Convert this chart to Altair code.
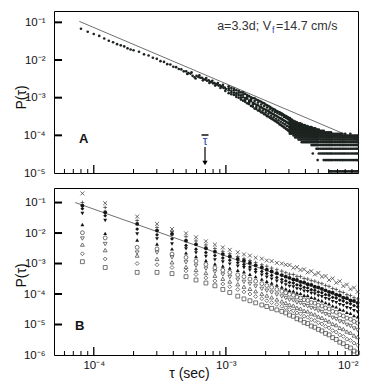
import altair as alt
import pandas as pd

# ---------------- values ----------------
# Panel A : tau = n * 1e-5 s, values given as log10 P(tau)
nA1 = [8, 9, 10, 11, 12, 13, 14, 15, 16, 17, 18, 19]
lpA1 = [-1.17, -1.25, -1.31, -1.36, -1.43, -1.49, -1.53, -1.58, -1.61, -1.64, -1.69, -1.72]

nA2 = [20, 22, 24, 26, 28, 30, 32, 34, 36, 38, 40, 42, 44, 46, 48, 50, 52, 54, 56, 58,
       60, 62, 64, 66, 68, 70, 72, 74, 76, 78, 80, 82, 84, 86, 88, 90, 92, 94, 96, 98, 100]
lpA2 = [-1.74, -1.78, -1.85, -1.88, -1.94, -1.97, -2.03, -2.05, -2.11, -2.12, -2.18, -2.19,
        -2.24, -2.25, -2.30, -2.30, -2.35, -2.36, -2.42, -2.46, -2.42, -2.45, -2.47, -2.47,
        -2.51, -2.52, -2.55, -2.54, -2.58, -2.58, -2.62, -2.61, -2.65, -2.64, -2.68, -2.67,
        -2.71, -2.70, -2.74, -2.73, -2.77]
nA2b = [51, 55, 59, 63, 67, 71, 75, 79, 83, 87, 91, 95, 99]
lpA2b = [-2.37, -2.33, -2.49, -2.41, -2.54, -2.48, -2.61, -2.55, -2.68, -2.61, -2.74, -2.66, -2.82]

nA3 = [105, 110, 115, 120, 125, 130, 135, 140, 145, 150, 155, 160, 165, 170, 175, 180, 185, 190,
       195, 200, 205, 210, 215, 220, 225, 230, 235, 240, 245, 250, 255, 260, 265, 270, 275, 280,
       285, 290, 295, 300]
lpA3_u = [-2.70, -2.74, -2.76, -2.80, -2.82, -2.86, -2.86, -2.90, -2.93, -2.96,
          -2.99, -3.01, -3.02, -3.05, -3.07, -3.09, -3.11, -3.14, -3.15, -3.18,
          -3.20, -3.22, -3.24, -3.27, -3.29, -3.31, -3.32, -3.35, -3.36, -3.38,
          -3.39, -3.41, -3.42, -3.44, -3.46, -3.48, -3.49, -3.51, -3.52, -3.54]
lpA3_m = [-2.80, -2.81, -2.87, -2.88, -2.93, -2.94, -2.99, -3.01, -3.03, -3.08,
          -3.09, -3.14, -3.16, -3.19, -3.20, -3.24, -3.25, -3.28, -3.30, -3.32,
          -3.34, -3.36, -3.39, -3.41, -3.43, -3.44, -3.47, -3.48, -3.50, -3.52,
          -3.54, -3.55, -3.57, -3.59, -3.61, -3.62, -3.64, -3.66, -3.67, -3.69]
lpA3_l = [-2.88, -2.91, -2.93, -2.98, -3.00, -3.05, -3.08, -3.11, -3.15, -3.17,
          -3.22, -3.24, -3.29, -3.30, -3.34, -3.35, -3.39, -3.40, -3.44, -3.45,
          -3.49, -3.50, -3.53, -3.55, -3.57, -3.59, -3.62, -3.63, -3.66, -3.67,
          -3.71, -3.72, -3.75, -3.76, -3.79, -3.80, -3.83, -3.84, -3.87, -3.88]
lpA3_x = [-2.75, -2.86, -2.81, -2.93, -2.87, -3.00, -2.92, -3.06, -2.98, -3.12,
          -3.04, -3.19, -3.09, -3.25, -3.13, -3.30, -3.18, -3.34, -3.22, -3.39,
          -3.26, -3.43, -3.31, -3.48, -3.35, -3.52, -3.38, -3.56, -3.41, -3.60,
          -3.44, -3.64, -3.47, -3.68, -3.51, -3.71, -3.54, -3.75, -3.57, -3.78]

# quantised tail of panel A: P = k * P_ONE (k = number of events)
P_ONE = 1.1e-5
qN = [305, 315, 325, 335, 345, 355, 365, 375, 385, 395, 405, 415, 425, 435, 445, 455, 465, 475,
      485, 495, 505, 520, 535, 550, 565, 580, 595, 610, 625, 640, 660, 680, 700, 720, 740, 760,
      780, 800, 825, 850, 875, 900, 925, 950, 975, 995]
qKmin = [10, 10, 9, 8, 8, 7, 7, 6] + [6] * 38
qKmax = [26, 24, 22, 21, 20, 19, 19, 18, 17, 17, 16, 16, 15, 15, 15, 14, 14, 14, 13, 13,
         13, 12, 12, 12, 11, 11, 11, 11, 11, 10, 10, 10, 10, 10, 10, 10, 9, 10, 9, 9,
         10, 9, 9, 9, 9, 9]
rowK = [5, 4, 3, 2, 1]
rowStartN = [445, 477, 502, 548, 598]
isoN = [495, 455]
isoK = [2, 3]

lineA_tau = [7.78e-5, 1e-2]
lineA_P = [0.106, 7.6e-5]
tau_bar = [6.95e-4]

# Panel B : columns of tau (s) and log10 P for each symbol series
tauB = [8.2e-5, 1.22e-4, 2.13e-4, 3.01e-4, 3.91e-4, 4.99e-4, 5.94e-4, 7.06e-4, 8.26e-4, 9.48e-4,
        1.07e-3, 1.23e-3, 1.37e-3, 1.52e-3, 1.68e-3, 1.87e-3, 2.04e-3, 2.22e-3, 2.43e-3, 2.65e-3,
        2.84e-3, 3.03e-3, 3.24e-3, 3.45e-3, 3.67e-3, 3.91e-3, 4.16e-3, 4.43e-3, 4.71e-3, 5.01e-3,
        5.33e-3, 5.68e-3, 6.04e-3, 6.43e-3, 6.84e-3, 7.28e-3, 7.74e-3, 8.24e-3, 8.77e-3, 9.33e-3,
        9.93e-3]
lp_x = [-0.70, -1.02, -1.46, -1.70, -1.87, -2.01, -2.14, -2.27, -2.38, -2.47, -2.55, -2.63, -2.70,
        -2.74, -2.81, -2.84, -2.90, -2.92, -2.98, -3.00, -3.04, -3.05, -3.14, -3.12, -3.21, -3.19,
        -3.29, -3.25, -3.36, -3.31, -3.43, -3.41, -3.54, -3.49, -3.63, -3.58, -3.74, -3.69, -3.84,
        -3.79, -3.93]
lp_plus = [-1.00, -1.16, -1.59, -1.82, -1.95, -2.12, -2.26, -2.39, -2.51, -2.60, -2.68, -2.77, -2.84,
           -2.90, -2.97, -3.04, -3.09, -3.15, -3.20, -3.25, -3.30, -3.35, -3.36, -3.42, -3.43, -3.49,
           -3.51, -3.56, -3.58, -3.63, -3.66, -3.72, -3.75, -3.82, -3.85, -3.92, -3.95, -4.02, -4.05,
           -4.12, -4.16]
lp_dot = [-1.10, -1.32, -1.70, -1.92, -2.03, -2.25, -2.37, -2.50, -2.61, -2.69, -2.77, -2.85, -2.91,
          -2.98, -3.06, -3.13, -3.20, -3.26, -3.32, -3.38, -3.43, -3.47, -3.52, -3.54, -3.60, -3.62,
          -3.68, -3.70, -3.76, -3.78, -3.83, -3.88, -3.93, -3.96, -4.02, -4.05, -4.12, -4.14, -4.21,
          -4.23, -4.29]
lp_dia = [-1.20, -1.43, -1.87, -2.06, -2.19, -2.41, -2.53, -2.64, -2.74, -2.82, -2.89, -2.97, -3.03,
          -3.11, -3.19, -3.26, -3.33, -3.39, -3.46, -3.52, -3.57, -3.62, -3.64, -3.70, -3.72, -3.78,
          -3.80, -3.86, -3.88, -3.93, -3.96, -4.02, -4.04, -4.11, -4.13, -4.20, -4.23, -4.29, -4.32,
          -4.38, -4.42]
lp_tdn = [-1.36, -1.59, -2.03, -2.19, -2.36, -2.52, -2.65, -2.77, -2.88, -2.95, -3.02, -3.09, -3.14,
          -3.22, -3.30, -3.38, -3.45, -3.51, -3.58, -3.64, -3.70, -3.75, -3.77, -3.83, -3.85, -3.91,
          -3.92, -3.98, -4.00, -4.06, -4.09, -4.15, -4.18, -4.25, -4.28, -4.35, -4.38, -4.45, -4.48,
          -4.55, -4.59]
lp_tup = [-1.72, -2.01, -2.23, -2.36, -2.52, -2.65, -2.77, -2.90, -3.01, -3.08, -3.15, -3.22, -3.27,
          -3.35, -3.43, -3.51, -3.58, -3.64, -3.71, -3.77, -3.83, -3.88, -3.90, -3.96, -3.98, -4.04,
          -4.05, -4.11, -4.13, -4.19, -4.22, -4.28, -4.32, -4.39, -4.42, -4.50, -4.53, -4.60, -4.63,
          -4.71, -4.75]
lp_oc = [-1.99, -2.16, -2.47, -2.52, -2.69, -2.80, -2.92, -3.03, -3.14, -3.22, -3.29, -3.37, -3.43,
         -3.51, -3.58, -3.66, -3.72, -3.78, -3.85, -3.91, -3.96, -4.01, -4.04, -4.10, -4.13, -4.19,
         -4.21, -4.28, -4.30, -4.37, -4.39, -4.46, -4.49, -4.57, -4.60, -4.68, -4.72, -4.79, -4.83,
         -4.90, -4.95]
lp_otd = [-2.18, -2.36, -2.64, -2.64, -2.80, -2.96, -3.07, -3.17, -3.27, -3.36, -3.44, -3.53, -3.60,
          -3.67, -3.75, -3.83, -3.89, -3.95, -4.02, -4.08, -4.13, -4.19, -4.21, -4.28, -4.30, -4.37,
          -4.40, -4.46, -4.49, -4.55, -4.59, -4.66, -4.70, -4.78, -4.82, -4.90, -4.93, -5.01, -5.05,
          -5.13, -5.18]
lp_otu = [-2.38, -2.56, -2.74, -2.85, -2.96, -3.11, -3.21, -3.31, -3.40, -3.50, -3.59, -3.68, -3.76,
          -3.83, -3.91, -3.99, -4.05, -4.11, -4.18, -4.24, -4.29, -4.35, -4.38, -4.45, -4.48, -4.55,
          -4.57, -4.64, -4.67, -4.74, -4.78, -4.85, -4.90, -4.98, -5.02, -5.11, -5.15, -5.23, -5.27,
          -5.36, -5.41]
lp_odi = [-2.68, -2.85, -3.00, -3.04, -3.13, -3.24, -3.36, -3.47, -3.57, -3.67, -3.76, -3.85, -3.93,
          -4.00, -4.08, -4.15, -4.22, -4.28, -4.34, -4.40, -4.45, -4.51, -4.55, -4.62, -4.65, -4.73,
          -4.76, -4.84, -4.87, -4.94, -4.98, -5.06, -5.11, -5.20, -5.25, -5.34, -5.39, -5.48, -5.52,
          -5.61, -5.67]
lp_osq = [-2.94, -3.13, -3.29, -3.29, -3.33, -3.43, -3.54, -3.64, -3.73, -3.85, -3.95, -4.07, -4.16,
          -4.22, -4.29, -4.36, -4.41, -4.47, -4.52, -4.57, -4.62, -4.69, -4.73, -4.81, -4.85, -4.93,
          -4.97, -5.05, -5.09, -5.16, -5.21, -5.29, -5.34, -5.43, -5.49, -5.58, -5.63, -5.72, -5.77,
          -5.87, -5.93]

lineB_tau = [7.24e-5, 1e-2]
lineB_P = [0.1, 5.1e-5]

# axis ticks / labels
xLab = [1e-4, 1e-3, 1e-2]
xMajor = [1e-4, 1e-3]
xMinor = [6e-5, 7e-5, 8e-5, 9e-5, 2e-4, 3e-4, 4e-4, 5e-4, 6e-4, 7e-4, 8e-4, 9e-4,
          2e-3, 3e-3, 4e-3, 5e-3, 6e-3, 7e-3, 8e-3, 9e-3]
yLabA = [1e-1, 1e-2, 1e-3, 1e-4, 1e-5]
yTickA = [1e-1, 1e-2, 1e-3, 1e-4]
yLabB = [1e-1, 1e-2, 1e-3, 1e-4, 1e-5, 1e-6]
yTickB = [1e-1, 1e-2, 1e-3, 1e-4, 1e-5]

# ---------------- tables ----------------
ta, pa = [], []
for n, v in zip(nA1 + nA2 + nA2b, lpA1 + lpA2 + lpA2b):
    ta.append(n * 1e-5); pa.append(10 ** v)
for lst in (lpA3_u, lpA3_m, lpA3_l, lpA3_x):
    for n, v in zip(nA3, lst):
        ta.append(n * 1e-5); pa.append(10 ** v)
for n, k0, k1 in zip(qN, qKmin, qKmax):
    for k in range(k0, k1 + 1):
        ta.append(n * 1e-5); pa.append(k * P_ONE)
for k, n0 in zip(rowK, rowStartN):
    for n in qN:
        if n >= n0:
            ta.append(n * 1e-5); pa.append(k * P_ONE)
for n, k in zip(isoN, isoK):
    ta.append(n * 1e-5); pa.append(k * P_ONE)
dfA = pd.DataFrame({"tau": ta, "P": pa})

series = {"x": lp_x, "plus": lp_plus, "dot": lp_dot, "dia": lp_dia, "tdn": lp_tdn, "tup": lp_tup,
          "oc": lp_oc, "otd": lp_otd, "otu": lp_otu, "odi": lp_odi, "osq": lp_osq}
rows = []
for name, vals in series.items():
    for t, v in zip(tauB, vals):
        rows.append({"tau": t, "P": 10 ** v, "s": name})
dfB = pd.DataFrame(rows)

# ---------------- chart ----------------
FONT = "Liberation Sans"
W, HA, HB = 304, 162, 167
DOT = "#1d2420"
LBL = "'10' + ['⁰','⁻¹','⁻²','⁻³','⁻⁴','⁻⁵','⁻⁶'][round(-log(datum.value)/LN10)]"

xs = alt.Scale(type="log", domain=[5e-5, 1e-2], nice=False)
ysA = alt.Scale(type="log", domain=[1e-5, 0.2], nice=False)
ysB = alt.Scale(type="log", domain=[1e-6, 0.3], nice=False)

yaxA = alt.Axis(values=yLabA, labelExpr=LBL, title="P(τ)", titleX=-26, titleY=86, titleAngle=270,
                titleBaseline="bottom", titleAlign="center", labelPadding=9)
yaxB = alt.Axis(values=yLabB, labelExpr=LBL, title="P(τ)", titleX=-26, titleY=87, titleAngle=270,
                titleBaseline="bottom", titleAlign="center", labelPadding=9)
xaxB = alt.Axis(values=xLab, labelExpr=LBL, title="τ (sec)", titleX=135, titleY=22,
                titleBaseline="alphabetic", titleAlign="center", labelPadding=4)


def xenc(ax):
    return alt.X("tau:Q", scale=xs, axis=ax)


def xticks(h, ax):
    maj = alt.Chart(pd.DataFrame({"tau": xMajor})).mark_rule(color="black", strokeWidth=1.3).encode(
        x=xenc(ax), y=alt.value(h), y2=alt.value(h - 8))
    mnr = alt.Chart(pd.DataFrame({"tau": xMinor})).mark_rule(color="black", strokeWidth=1).encode(
        x=xenc(ax), y=alt.value(h), y2=alt.value(h - 4))
    return [maj, mnr]


def yticks(vals, ysc, yax):
    return alt.Chart(pd.DataFrame({"P": vals})).mark_rule(color="black", strokeWidth=2).encode(
        y=alt.Y("P:Q", scale=ysc, axis=yax), x=alt.value(0), x2=alt.value(8))


def label(txt, x, y, **kw):
    return alt.Chart(pd.DataFrame({"t": [txt]})).mark_text(font=FONT, **kw).encode(
        text="t:N", x=alt.value(x), y=alt.value(y))


# ---- panel A ----
lineA = alt.Chart(pd.DataFrame({"tau": lineA_tau, "P": lineA_P})).mark_line(
    color="#707070", strokeWidth=1).encode(x=xenc(None), y=alt.Y("P:Q", scale=ysA, axis=yaxA))
ptsA = alt.Chart(dfA).mark_circle(size=7, color=DOT, opacity=1).encode(
    x=xenc(None), y=alt.Y("P:Q", scale=ysA, axis=yaxA))
dft = pd.DataFrame({"tau": tau_bar})
tbar_line = alt.Chart(dft).mark_tick(orient="horizontal", size=7, thickness=2, color="black").encode(
    x=xenc(None), y=alt.value(124))
tbar_txt = alt.Chart(dft).mark_text(text="τ", font=FONT, fontSize=12, color="#2a46a8", baseline="middle").encode(
    x=xenc(None), y=alt.value(129.5))
tbar_arrow = alt.Chart(dft).mark_rule(color="black", strokeWidth=1.2).encode(
    x=xenc(None), y=alt.value(136), y2=alt.value(150))
tbar_head = alt.Chart(dft).mark_point(shape="triangle-down", filled=True, size=28, color="black", opacity=1).encode(
    x=xenc(None), y=alt.value(152))

panelA = alt.layer(
    lineA, ptsA, *xticks(HA, None), yticks(yTickA, ysA, yaxA),
    tbar_line, tbar_txt, tbar_arrow, tbar_head,
    label("A", 25, 132, fontSize=13, fontWeight="bold", align="left", baseline="alphabetic", color="#111"),
    label("a=3.3d; V", 217, 19, fontSize=12.5, align="right", baseline="alphabetic", color="#333"),
    label("f", 218, 22, fontSize=9, align="left", baseline="alphabetic", color="#2a46a8"),
    label("=14.7 cm/s", 222, 19, fontSize=12.5, align="left", baseline="alphabetic", color="#333"),
).properties(width=W, height=HA)

# ---- panel B ----
filled_names = ["dot", "dia", "tdn", "tup"]
filled_shapes = ["circle", "diamond", "triangle-down", "triangle-up"]
open_names = ["oc", "otd", "otu", "odi", "osq"]
open_shapes = ["circle", "triangle-down", "triangle-up", "diamond", "square"]
cross_names = ["x", "plus"]
cross_shapes = ["M-1,-1L1,1M-1,1L1,-1", "M-1,0L1,0M0,-1L0,1"]

lineB = alt.Chart(pd.DataFrame({"tau": lineB_tau, "P": lineB_P})).mark_line(
    color="#707070", strokeWidth=1).encode(x=xenc(xaxB), y=alt.Y("P:Q", scale=ysB, axis=yaxB))
openB = alt.Chart(dfB).transform_filter(alt.FieldOneOfPredicate(field="s", oneOf=open_names)).mark_point(
    filled=False, size=15, strokeWidth=0.8, color="#505050", opacity=1).encode(
    x=xenc(xaxB), y=alt.Y("P:Q", scale=ysB, axis=yaxB),
    shape=alt.Shape("s:N", scale=alt.Scale(domain=open_names, range=open_shapes), legend=None))
crossB = alt.Chart(dfB).transform_filter(alt.FieldOneOfPredicate(field="s", oneOf=cross_names)).mark_point(
    filled=False, size=15, strokeWidth=0.8, color="#444", opacity=1).encode(
    x=xenc(xaxB), y=alt.Y("P:Q", scale=ysB, axis=yaxB),
    shape=alt.Shape("s:N", scale=alt.Scale(domain=cross_names, range=cross_shapes), legend=None))
filledB = alt.Chart(dfB).transform_filter(alt.FieldOneOfPredicate(field="s", oneOf=filled_names)).mark_point(
    filled=True, size=15, color="#151515", opacity=1).encode(
    x=xenc(xaxB), y=alt.Y("P:Q", scale=ysB, axis=yaxB),
    shape=alt.Shape("s:N", scale=alt.Scale(domain=filled_names, range=filled_shapes), legend=None))

panelB = alt.layer(
    lineB, openB, crossB, filledB, *xticks(HB, xaxB), yticks(yTickB, ysB, yaxB),
    label("B", 21, 142, fontSize=13, fontWeight="bold", align="left", baseline="alphabetic", color="#111"),
).properties(width=W, height=HB).resolve_scale(shape="independent")

chart = alt.vconcat(panelA, panelB, spacing=8).properties(
    padding={"left": 5, "top": 2, "right": 2, "bottom": 2}
).configure_view(stroke="black", strokeWidth=1).configure_axis(
    domain=False, ticks=False, grid=False, labelFont=FONT, titleFont=FONT,
    labelFontSize=11.5, titleFontSize=14, titleFontWeight="normal",
    labelColor="#111", titleColor="#111")

chart.save("out.html", embed_options={"renderer": "svg", "actions": False})
